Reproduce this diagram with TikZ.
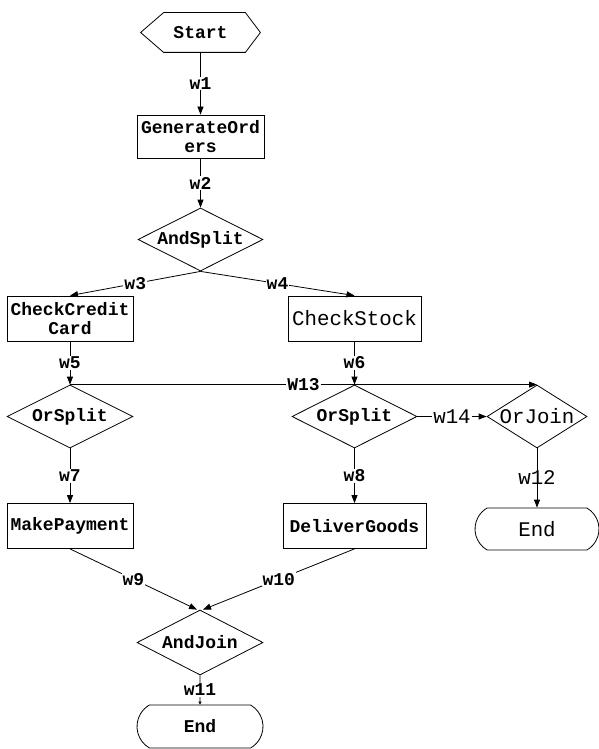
\documentclass[tikz,border=0pt]{standalone}
\usepackage{fontspec}
\setmonofont{Liberation Mono}
\usetikzlibrary{arrows.meta,shapes.geometric,shapes.misc,calc}
\begin{document}
\begin{tikzpicture}[x=1pt,y=-1pt,
 every node/.style={font=\ttfamily\bfseries\fontsize{18}{19.5}\selectfont},
 big/.style={font=\ttfamily\fontsize{20.8}{24}\selectfont},
 box/.style={draw, rectangle, inner sep=0pt, align=center},
 dia/.style={draw, diamond, inner sep=0pt, aspect=2},
 term/.style={draw, rounded rectangle, rounded rectangle arc length=120, inner sep=0pt},
 lbl/.style={fill=white, inner sep=1pt, pos=0.5},
 arr/.style={-{Triangle[length=8pt,width=6pt]}},
 line width=0.8pt]
\useasboundingbox (0,0) rectangle (598,749);
% nodes
\node[minimum width=119pt, minimum height=39pt, inner sep=0pt] (start) at (200.5,32.5) {Start};
\draw (start.west) -- ($(start.north west)+(23,0)$) -- ($(start.north east)+(-15,0)$) -- (start.east)
      -- ($(start.south east)+(-15,0)$) -- ($(start.south west)+(23,0)$) -- cycle;
\node[box, minimum width=127pt, minimum height=43pt] (gen) at (200.5,136.5) {GenerateOrd\\ers};
\node[dia, minimum width=125pt, minimum height=63pt] (andsplit) at (200.5,239.5) {\makebox[0pt]{AndSplit}};
\node[box, minimum width=126pt, minimum height=45pt] (ccc) at (70,318.5) {CheckCredit\\Card};
\node[box, big, minimum width=133pt, minimum height=45pt] (cs) at (354.5,318.5) {CheckStock};
\node[dia, minimum width=126pt, minimum height=63pt] (os1) at (70,416.5) {\makebox[0pt]{OrSplit}};
\node[dia, minimum width=125pt, minimum height=63pt] (os2) at (354.5,416.5) {\makebox[0pt]{OrSplit}};
\node[dia, big, minimum width=100pt, minimum height=63pt] (oj) at (537,416.5) {\makebox[0pt]{OrJoin}};
\node[box, minimum width=126pt, minimum height=45pt] (mp) at (70,526) {MakePayment};
\node[box, minimum width=143pt, minimum height=45pt] (dg) at (354.5,526) {DeliverGoods};
\node[term, big, minimum width=124pt, minimum height=42pt] (end2) at (537,529) {End};
\node[dia, minimum width=126pt, minimum height=65pt] (aj) at (200,642.5) {\makebox[0pt]{AndJoin}};
\node[term, minimum width=126pt, minimum height=43pt] (end1) at (200,726.5) {End};
% connectors
\draw[arr] (start) -- node[lbl]{w1} (gen);
\draw[arr] (gen) -- node[lbl]{w2} (andsplit);
\draw[arr] (andsplit.south) -- node[lbl]{w3} (ccc.north);
\draw[arr] (andsplit.south) -- node[lbl]{w4} (cs.north);
\draw[arr] (ccc) -- node[lbl]{w5} (os1);
\draw[arr] (cs) -- node[lbl]{w6} (os2);
\draw[arr] (os1.north) -- node[lbl]{W13} (oj.north);
\draw[arr] (os2.east) -- node[lbl,big]{w14} (oj.west);
\draw[arr] (os1) -- node[lbl]{w7} (mp);
\draw[arr] (os2) -- node[lbl]{w8} (dg);
\path (oj.south) -- node[big, pos=0.5]{w12} (end2.north);
\draw[arr] (oj.south) -- (end2.north);
\draw[arr] (mp.south) -- node[lbl]{w9} ($(aj.north)+(-3,0)$);
\draw[arr] (dg.south) -- node[lbl]{w10} ($(aj.north)+(3,0)$);
\draw[-{Triangle[length=3pt,width=3pt]}] (aj) -- node[lbl]{w11} (end1);
\end{tikzpicture}
\end{document}
